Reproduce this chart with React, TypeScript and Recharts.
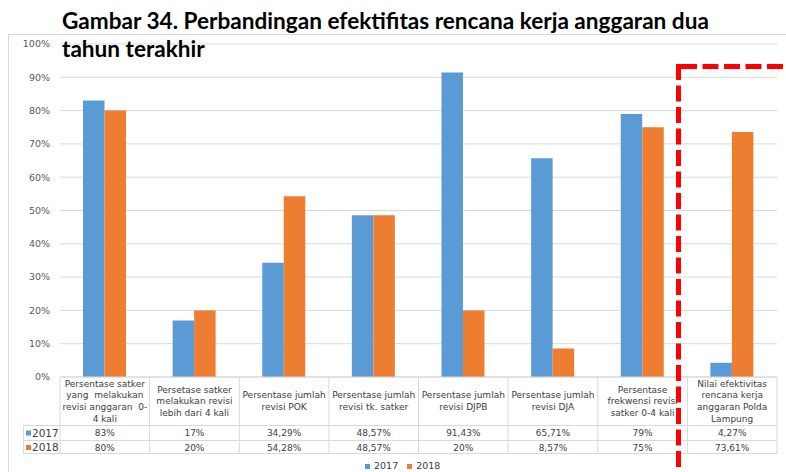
import { BarChart, Bar, XAxis, YAxis, CartesianGrid, Legend } from 'recharts'

// categories (line breaks as in the table header)
const categories = [
  'Persentase satker\nyang  melakukan\nrevisi anggaran  0-\n4 kali',
  'Persetase satker\nmelakukan revisi\nlebih dari 4 kali',
  'Persentase jumlah\nrevisi POK',
  'Persentase jumlah\nrevisi tk. satker',
  'Persentase jumlah\nrevisi DJPB',
  'Persentase jumlah\nrevisi DJA',
  'Persentase\nfrekwensi revisi\nsatker 0-4 kali',
  'Nilai efektivitas\nrencana kerja\nanggaran Polda\nLampung',
]
const values2017 = [83, 17, 34.29, 48.57, 91.43, 65.71, 79, 4.27]
const values2018 = [80, 20, 54.28, 48.57, 20, 8.57, 75, 73.61]
const labels2017 = ['83%', '17%', '34,29%', '48,57%', '91,43%', '65,71%', '79%', '4,27%']
const labels2018 = ['80%', '20%', '54,28%', '48,57%', '20%', '8,57%', '75%', '73,61%']
const yTicks = [0, 10, 20, 30, 40, 50, 60, 70, 80, 90, 100]

const BLUE = '#5B9BD5'
const ORANGE = '#ED7D31'
const GRID = '#d9d9d9'
const TXT = '#404040'
const FONT = 'DejaVu Sans, Verdana, sans-serif'

const W = 786
const H = 472
const COL_W = (W - 60 - 9) / categories.length

const data = categories.map((name, i) => ({
  name,
  y2017: values2017[i],
  y2018: values2018[i],
}))

function TableTick(props: any) {
  const { x, y, payload } = props
  const i = categories.indexOf(payload.value)
  const left = x - COL_W / 2
  const right = x + COL_W / 2
  const lines = categories[i].split('\n')
  const cy = y + 24
  const lh = 11.6
  return (
    <g fontFamily={FONT} fill={TXT}>
      <line x1={left} x2={left} y1={y} y2={y + 77} stroke={GRID} />
      {i === categories.length - 1 && <line x1={right} x2={right} y1={y} y2={y + 77} stroke={GRID} />}
      <line x1={left} x2={right} y1={y + 48.5} y2={y + 48.5} stroke={GRID} />
      <line x1={left} x2={right} y1={y + 63.5} y2={y + 63.5} stroke={GRID} />
      <line x1={left} x2={right} y1={y + 76.5} y2={y + 76.5} stroke={GRID} />
      <text textAnchor="middle" fontSize={9} style={{ whiteSpace: 'pre' }}>
        {lines.map((l, k) => (
          <tspan key={k} x={x} y={cy + (k - (lines.length - 1) / 2) * lh} dy="0.35em">
            {l}
          </tspan>
        ))}
      </text>
      <text x={x} y={y + 56} dy="0.35em" textAnchor="middle" fontSize={9}>
        {labels2017[i]}
      </text>
      <text x={x} y={y + 70.5} dy="0.35em" textAnchor="middle" fontSize={9}>
        {labels2018[i]}
      </text>
      {i === 0 && (
        <g>
          <line x1={23.5} x2={23.5} y1={y + 48.5} y2={y + 76.5} stroke={GRID} />
          <line x1={23.5} x2={left} y1={y + 48.5} y2={y + 48.5} stroke={GRID} />
          <line x1={23.5} x2={left} y1={y + 63.5} y2={y + 63.5} stroke={GRID} />
          <line x1={23.5} x2={left} y1={y + 76.5} y2={y + 76.5} stroke={GRID} />
          <rect x={26} y={y + 53.5} width={5} height={5} fill={BLUE} />
          <rect x={26} y={y + 68} width={5} height={5} fill={ORANGE} />
          <text x={32} y={y + 56} dy="0.35em" fontSize={10.5}>2017</text>
          <text x={32} y={y + 70.5} dy="0.35em" fontSize={10.5}>2018</text>
        </g>
      )}
    </g>
  )
}

function LegendContent() {
  const item = (color: string, label: string, ml: number) => (
    <span style={{ display: 'inline-flex', alignItems: 'center', marginLeft: ml }}>
      <span style={{ width: 5, height: 5, background: color, marginRight: 4 }} />
      <span>{label}</span>
    </span>
  )
  return (
    <div style={{ position: 'absolute', left: 365, top: 0, display: 'flex', fontFamily: FONT, fontSize: 9.5, color: TXT, lineHeight: '14px' }}>
      {item(BLUE, '2017', 0)}
      {item(ORANGE, '2018', 9)}
    </div>
  )
}

export default function App() {
  return (
    <div style={{ position: 'fixed', left: 0, top: 0, width: W, height: H, background: '#fff', overflow: 'hidden' }}>
      <div style={{ position: 'absolute', left: 8, top: 33.5, width: 800, height: 500, border: `1px solid ${GRID}` }} />
      <div style={{ position: 'absolute', left: 0, top: 0 }}>
        <BarChart width={W} height={H} data={data} margin={{ top: 44, right: 9, bottom: 18, left: 0 }} barGap={0} barSize={21.5}>
          <CartesianGrid vertical={false} stroke={GRID} />
          <XAxis
            dataKey="name"
            interval={0}
            height={77}
            tickSize={0}
            tickMargin={0}
            tickLine={false}
            axisLine={{ stroke: GRID }}
            tick={<TableTick />}
          />
          <YAxis
            domain={[0, 100]}
            ticks={yTicks}
            width={60}
            axisLine={false}
            tickLine={false}
            tickSize={0}
            tickMargin={10}
            tickFormatter={(v) => `${v}%`}
            tick={{ fontSize: 9.5, fill: '#595959', fontFamily: FONT }}
          />
          <Legend
            layout="horizontal"
            verticalAlign="middle"
            align="center"
            wrapperStyle={{ top: 459, left: 0, width: W, height: 14 }}
            content={<LegendContent />}
          />
          <Bar dataKey="y2017" name="2017" fill={BLUE} isAnimationActive={false} />
          <Bar dataKey="y2018" name="2018" fill={ORANGE} isAnimationActive={false} />
        </BarChart>
      </div>
      <div
        style={{
          position: 'absolute',
          left: 62,
          top: 7,
          fontFamily: 'Lato, sans-serif',
          fontWeight: 700,
          fontSize: 22.6,
          lineHeight: '28px',
          color: '#000',
          whiteSpace: 'nowrap',
        }}
      >
        <div>Gambar 34. Perbandingan efektifitas rencana kerja anggaran dua</div>
        <div>tahun terakhir</div>
      </div>
      <svg width={W} height={H} style={{ position: 'absolute', left: 0, top: 0, pointerEvents: 'none' }}>
        <line x1={678.5} x2={678.5} y1={64} y2={H} stroke="#ff0000" strokeWidth={5} strokeDasharray="16 5.5" />
        <line x1={681} x2={W} y1={66.5} y2={66.5} stroke="#ff0000" strokeWidth={5} strokeDasharray="16 5.5" />
      </svg>
    </div>
  )
}
